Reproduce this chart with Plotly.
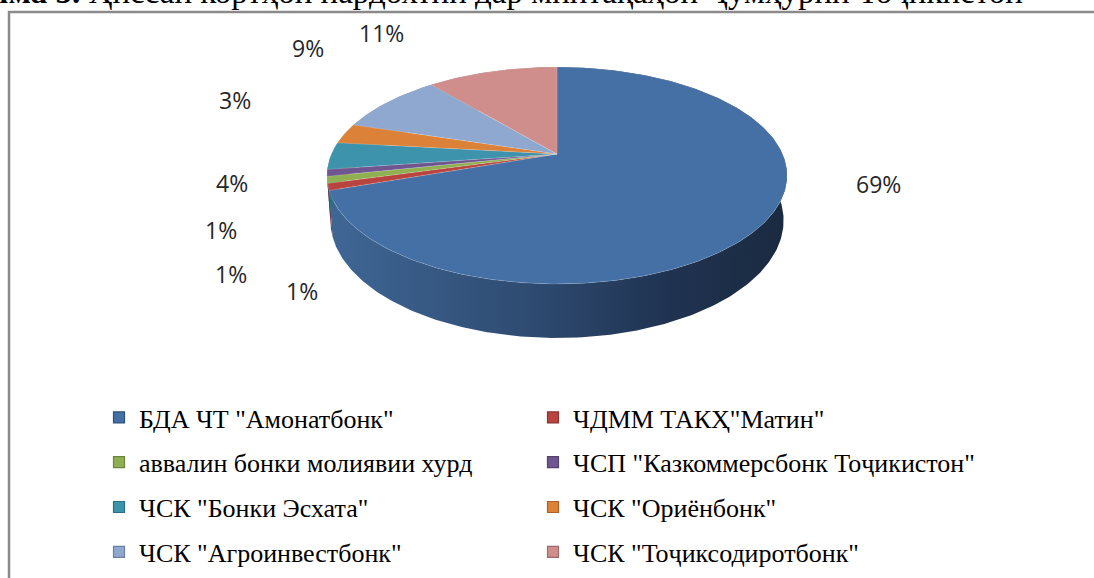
import numpy as np
import plotly.graph_objects as go

# ---------------- data ----------------
labels = [
    'БДА ЧТ "Амонатбонк"',
    'ЧДММ ТАКҲ"Матин"',
    'аввалин бонки молиявии хурд',
    'ЧСП "Казкоммерсбонк Тоҷикистон"',
    'ЧСК "Бонки Эсхата"',
    'ЧСК "Ориёнбонк"',
    'ЧСК "Агроинвестбонк"',
    'ЧСК "Тоҷиксодиротбонк"',
]
values = [69, 1, 1, 1, 4, 3, 9, 11]

title_bold = "Диаграмма 5."
title_rest = " Ҳиссаи кортҳои пардохтии дар минтақаҳои Ҷумҳурии Тоҷикистон"

# ---------------- styles ----------------
top_colors = ["#4470a5", "#b9443f", "#8fb050", "#6f5690",
              "#3c93ab", "#dc8138", "#8fa8cf", "#cf8e8c"]
side_colors = ["#2c4669", "#8a3330", "#6c853c", "#54416d",
               "#2d6f82", "#a8622a", "#6c7f9d", "#9d6c6a"]
legend_border = ["#2f4f78", "#8a3330", "#6c853c", "#54416d",
                 "#2d6f82", "#a8622a", "#6c7f9d", "#9d6c6a"]

W, H = 1094, 578
# projection of the tilted pie (pixel space)
CX, CY = 557.0, 154.0
R, S, A = 225.5, 104.2, 0.198
D, RB = 43.3, 0.985

def top_pts(th):
    u, v = np.sin(th), np.cos(th)
    w = 1 + A * v
    return CX + R * u / w, CY - S * v / w

def bot_pts(th):
    u, v = np.sin(th), np.cos(th)
    w = 1 + A * v
    return CX + R * RB * u / w, CY - S * v / w + D / w

vals = np.array(values, dtype=float)
frac = vals / vals.sum()
ends = np.cumsum(frac) * 2 * np.pi
starts = ends - frac * 2 * np.pi

fig = go.Figure()

# side walls
for i in range(len(values)):
    n = max(8, int(frac[i] * 400))
    th = np.linspace(starts[i], ends[i], n)
    tx, ty = top_pts(th)
    bx, by = bot_pts(th)
    xs = np.concatenate([tx, bx[::-1], tx[:1]])
    ys = np.concatenate([ty, by[::-1], ty[:1]])
    kw = {}
    if i == 0:
        kw["fillgradient"] = dict(
            type="horizontal",
            colorscale=[[0, "#3f6796"], [0.45, "#2e4a70"],
                        [0.75, "#1f3250"], [1, "#1a2a40"]],
        )
    fig.add_trace(go.Scatter(
        x=xs, y=ys, mode="lines", fill="toself",
        fillcolor=side_colors[i], line=dict(width=0, color=side_colors[i]),
        hoverinfo="skip", showlegend=False, **kw))

# top faces
for i in range(len(values)):
    n = max(8, int(frac[i] * 400))
    th = np.linspace(starts[i], ends[i], n)
    tx, ty = top_pts(th)
    xs = np.concatenate([[CX], tx, [CX]])
    ys = np.concatenate([[CY], ty, [CY]])
    fig.add_trace(go.Scatter(
        x=xs, y=ys, mode="lines", fill="toself",
        fillcolor=top_colors[i],
        line=dict(width=0.6, color="rgba(255,255,255,0.25)"),
        hoverinfo="text", text=f"{labels[i]}: {values[i]}%",
        showlegend=False))

# legend entries
for i in range(len(values)):
    fig.add_trace(go.Scatter(
        x=[None], y=[None], mode="markers", name=labels[i],
        marker=dict(symbol="square", size=11, color=top_colors[i],
                    line=dict(width=1.2, color=legend_border[i])),
        legend="legend" if i % 2 == 0 else "legend2",
        legendgroup=f"g{i}", showlegend=True))

# percentage labels
label_pos = [(878, 184), (302, 291), (231, 274), (221, 230),
             (232, 183), (235, 100), (308, 48), (381, 33)]
for i, (lx, ly) in enumerate(label_pos):
    fig.add_annotation(x=lx, y=ly, xref="x", yref="y",
                       text=f"{values[i]}%", showarrow=False,
                       font=dict(family="Open Sans", size=23, color="#262626"))

# cut-off title at the very top
fig.add_annotation(x=1025 / W, y=1 - 12 / H, xref="paper", yref="paper",
                   xanchor="right", yanchor="bottom", showarrow=False,
                   text=f"<b>{title_bold}</b>{title_rest}",
                   font=dict(family="Liberation Serif", size=33, color="black"))

legend_common = dict(
    xanchor="left", yanchor="top",
    font=dict(family="Liberation Serif", size=26, color="black"),
    tracegroupgap=8, bgcolor="rgba(0,0,0,0)", borderwidth=0,
    orientation="v",
)
fig.update_layout(
    width=W, height=H,
    margin=dict(l=0, r=0, t=0, b=0, autoexpand=False),
    paper_bgcolor="white", plot_bgcolor="white",
    xaxis=dict(range=[0, W], visible=False, fixedrange=True),
    yaxis=dict(range=[H, 0], visible=False, fixedrange=True),
    legend=dict(x=99 / W, y=1 - 394 / H, **legend_common),
    legend2=dict(x=533 / W, y=1 - 394 / H, **legend_common),
    shapes=[dict(type="rect", xref="paper", yref="paper",
                 x0=9 / W, y0=-0.05, x1=1.02, y1=1 - 12 / H,
                 line=dict(color="#8a8a8a", width=2.5),
                 fillcolor="rgba(0,0,0,0)", layer="below")],
    showlegend=True,
)

fig.write_html(
    "out.html",
    config={"displayModeBar": False},
    post_script="document.body.style.margin='0';"
                "document.body.style.overflow='hidden';",
)
